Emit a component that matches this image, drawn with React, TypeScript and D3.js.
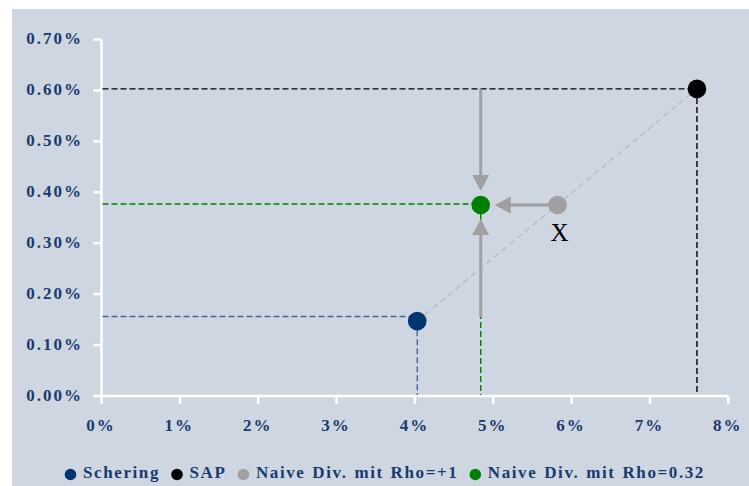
import React, { useEffect, useRef } from "react";
import * as d3 from "d3";

// Risk (x, in %) vs. return (y, in %) of two stocks and two naive portfolios
const seriesNames = ["Schering", "SAP", "Naive Div. mit Rho=+1", "Naive Div. mit Rho=0.32"];
const seriesColors = ["#00356f", "#000000", "#a0a0a0", "#008000"];
const riskValues = [4.03, 7.6, 5.82, 4.84];
const returnValues = [0.147, 0.603, 0.375, 0.375];

// Reference lines to the axes: [series index, level on the return axis]
const guideSeries = [0, 1, 3];
const guideLevels = [0.156, 0.603, 0.377];
const guideColors = ["#44689c", "#000000", "#008000"];

// Diversification arrows towards the Rho=0.32 portfolio
const arrowFromX = [4.84, 4.84, 5.82];
const arrowFromY = [0.603, 0.155, 0.375];
const arrowToX = [4.84, 4.84, 4.84];
const arrowToY = [0.375, 0.375, 0.375];

const xTicks = [0, 1, 2, 3, 4, 5, 6, 7, 8];
const yTicks = [0, 0.1, 0.2, 0.3, 0.4, 0.5, 0.6, 0.7];

const W = 749;
const H = 486;
const TEXT = "#193a6e";
const FONT = "'Liberation Serif', 'Times New Roman', serif";

export default function App() {
  const ref = useRef<SVGSVGElement>(null);

  useEffect(() => {
    document.body.style.margin = "0";
    const svg = d3.select(ref.current);
    svg.selectAll("*").remove();

    const x = d3.scaleLinear().domain([0, 8]).range([101.5, 728.3]);
    const y = d3.scaleLinear().domain([0, 0.7]).range([396, 39.5]);

    svg.append("rect").attr("width", W).attr("height", H).attr("fill", "#ffffff");
    svg.append("rect").attr("x", 12).attr("y", 9).attr("width", W - 12).attr("height", H - 9).attr("fill", "#ced7e1");

    // axes
    const axisG = svg.append("g").attr("stroke", "#ffffff").attr("stroke-width", 2.5).attr("fill", "none");
    axisG.append("line").attr("x1", x(0)).attr("x2", x(0)).attr("y1", y(0.7)).attr("y2", y(0));
    axisG.append("line").attr("x1", x(0)).attr("x2", x(8)).attr("y1", y(0)).attr("y2", y(0));
    axisG.selectAll("line.yt").data(yTicks).join("line").attr("class", "yt")
      .attr("x1", x(0) - 8).attr("x2", x(0)).attr("y1", (d) => y(d)).attr("y2", (d) => y(d));
    axisG.selectAll("line.xt").data(xTicks).join("line").attr("class", "xt")
      .attr("x1", (d) => x(d)).attr("x2", (d) => x(d)).attr("y1", y(0)).attr("y2", y(0) + 8);

    const labelStyle = (s: any) =>
      s.attr("font-family", FONT).attr("font-weight", "bold").attr("font-size", 17)
        .attr("letter-spacing", 2).attr("fill", TEXT);

    svg.append("g").selectAll("text").data(yTicks).join("text")
      .attr("x", 83).attr("y", (d) => y(d) + 4.5).attr("text-anchor", "end")
      .call(labelStyle).text((d) => d3.format(".2f")(d) + "%");

    svg.append("g").selectAll("text").data(xTicks).join("text")
      .attr("x", (d) => x(d) - 0.5).attr("y", 430.5).attr("text-anchor", "middle")
      .call(labelStyle).text((d) => d + "%");

    // connecting line between the two stocks
    svg.append("line")
      .attr("x1", x(riskValues[0])).attr("y1", y(returnValues[0]))
      .attr("x2", x(riskValues[1])).attr("y2", y(returnValues[1]))
      .attr("stroke", "#a9a9a9").attr("stroke-width", 1).attr("stroke-dasharray", "6,4");

    // guide lines
    guideSeries.forEach((si, i) => {
      const px = x(riskValues[si]);
      const gy = y(guideLevels[i]);
      const g = svg.append("g").attr("stroke", guideColors[i]).attr("stroke-width", 1.4)
        .attr("stroke-dasharray", "6,3").attr("fill", "none");
      g.append("line").attr("x1", x(0) + 1).attr("x2", px).attr("y1", gy).attr("y2", gy);
      g.append("line").attr("x1", px).attr("x2", px).attr("y1", y(returnValues[si])).attr("y2", y(0) - 1);
    });

    // arrows
    const headLen = 16;
    const headHalf = 8.5;
    arrowFromX.forEach((_, i) => {
      const x1 = x(arrowFromX[i]);
      const y1 = y(arrowFromY[i]);
      const x2 = x(arrowToX[i]);
      const y2 = y(arrowToY[i]);
      const dx = x2 - x1;
      const dy = y2 - y1;
      const len = Math.hypot(dx, dy);
      const ux = dx / len;
      const uy = dy / len;
      const tipX = x2 - ux * 14;
      const tipY = y2 - uy * 14;
      const baseX = tipX - ux * headLen;
      const baseY = tipY - uy * headLen;
      svg.append("line").attr("x1", x1).attr("y1", y1).attr("x2", baseX + ux).attr("y2", baseY + uy)
        .attr("stroke", "#a0a0a0").attr("stroke-width", 3);
      const px = -uy;
      const py = ux;
      svg.append("path")
        .attr("d", `M${tipX},${tipY}L${baseX + px * headHalf},${baseY + py * headHalf}L${baseX - px * headHalf},${baseY - py * headHalf}Z`)
        .attr("fill", "#a0a0a0");
    });

    // points
    svg.append("g").selectAll("circle").data(seriesNames).join("circle")
      .attr("cx", (_, i) => x(riskValues[i])).attr("cy", (_, i) => y(returnValues[i]))
      .attr("r", 9.3).attr("fill", (_, i) => seriesColors[i]);

    svg.append("text").attr("x", x(riskValues[2]) + 2).attr("y", 241)
      .attr("text-anchor", "middle").attr("font-family", FONT).attr("font-size", 25)
      .attr("fill", "#000000").text("X");

    // legend
    const legend = svg.append("g");
    let lx = 70.5;
    seriesNames.forEach((name, i) => {
      legend.append("circle").attr("cx", lx).attr("cy", 474.5).attr("r", 5.8).attr("fill", seriesColors[i]);
      const t = legend.append("text").attr("x", lx + 12.5).attr("y", 478)
        .call(labelStyle).attr("letter-spacing", 1.6).attr("word-spacing", 1).text(name);
      const w = (t.node() as SVGTextElement).getComputedTextLength();
      lx = lx + 12.5 + w + 17;
    });
  }, []);

  return <svg ref={ref} width={W} height={H} style={{ display: "block" }} />;
}
